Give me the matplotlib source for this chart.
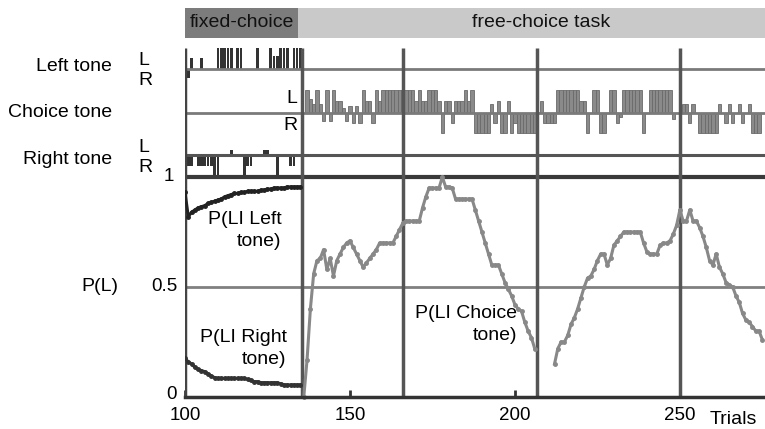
import matplotlib
matplotlib.use('Agg')
import matplotlib.pyplot as plt
from matplotlib.patches import Rectangle
import numpy as np

plt.rcParams['font.family'] = ['Liberation Sans', 'DejaVu Sans']
plt.rcParams['font.size'] = 14

# ---- data ----
fixed_trials = np.arange(100, 136)
p_left_tone = [0.93, 0.82, 0.84, 0.85, 0.86, 0.865, 0.87, 0.88, 0.885, 0.89,
               0.895, 0.90, 0.91, 0.915, 0.92, 0.925, 0.925, 0.93, 0.93, 0.935,
               0.935, 0.935, 0.935, 0.94, 0.94, 0.945, 0.945, 0.95, 0.95, 0.95,
               0.95, 0.955, 0.955, 0.955, 0.955, 0.955]
p_right_tone = [0.175, 0.16, 0.15, 0.135, 0.125, 0.12, 0.115, 0.105, 0.095, 0.088,
                0.085, 0.085, 0.085, 0.085, 0.085, 0.085, 0.085, 0.085, 0.085, 0.08,
                0.075, 0.07, 0.07, 0.065, 0.065, 0.065, 0.065, 0.065, 0.065, 0.06,
                0.055, 0.055, 0.055, 0.055, 0.055, 0.055]

choice_trials_1 = np.arange(136, 207)
p_choice_1 = [0.0, 0.17, 0.40, 0.56, 0.62, 0.63, 0.67, 0.58, 0.63, 0.55,
              0.62, 0.65, 0.68, 0.70, 0.71, 0.68, 0.65, 0.62, 0.59, 0.61,
              0.63, 0.65, 0.67, 0.70, 0.70, 0.70, 0.70, 0.70, 0.73, 0.76,
              0.79, 0.80, 0.80, 0.80, 0.80, 0.80, 0.86, 0.91, 0.95, 0.95,
              0.95, 0.95, 1.00, 0.955, 0.955, 0.95, 0.90, 0.90, 0.90, 0.90,
              0.90, 0.90, 0.85, 0.80, 0.75, 0.70, 0.65, 0.60, 0.60, 0.60,
              0.56, 0.52, 0.49, 0.46, 0.42, 0.40, 0.39, 0.34, 0.30, 0.27, 0.22]
choice_trials_2 = np.arange(212, 276)
p_choice_2 = [0.15, 0.22, 0.25, 0.25, 0.28, 0.33, 0.36, 0.40, 0.45, 0.50,
              0.54, 0.55, 0.58, 0.62, 0.65, 0.65, 0.60, 0.63, 0.69, 0.71,
              0.73, 0.75, 0.75, 0.75, 0.75, 0.75, 0.75, 0.70, 0.66, 0.65,
              0.65, 0.65, 0.69, 0.70, 0.70, 0.71, 0.74, 0.78, 0.85, 0.80,
              0.80, 0.85, 0.80, 0.80, 0.77, 0.73, 0.68, 0.62, 0.60, 0.65,
              0.59, 0.56, 0.52, 0.51, 0.50, 0.46, 0.43, 0.38, 0.35, 0.34,
              0.32, 0.30, 0.30, 0.26]

# raster responses: + = L, - = R (relative bar height)
left_tone_resp = [0, -0.9, 0.5, 0, 0, 0.5, 0, 0, 0, 0,
                  1, 1, 1, 1, 1, 0, 1, 1, 0, 0,
                  0, 0, 1, 0, 0, 0, 1, 0.6, 0.6, 1,
                  1, 1, 0, 1, 1, 1]
right_tone_resp = [0, -0.5, -0.5, 0, -0.5, -0.5, -0.5, -0.5, -0.5, -1,
                   -1, 0, 0, 0, 0.4, 0, 0, 0, -1, -0.5,
                   -0.5, 0, 0, 0, 0.4, 0.4, 0, 0, -1, 0,
                   0, 0, -0.5, -0.5, 0, 0]
free_trials = np.arange(136, 276)
choice_tone_resp = [0, 1, 0.6, 0.4, 1, 0.4, -0.4, 1, -0.4, 1,
                    0.5, 0.5, 0.2, -0.4, 0.3, -0.5, 0.3, -0.5, 1, 0.5,
                    0.5, -0.5, 1, 0.5, 1, 1, 1, 1, 1, 1,
                    1, 1, 1, 1, 0.5, 1, 0.5, 0.5, 1, 1,
                    1, 0.5, -1, 0.5, 0.5, -0.5, 0.5, 0.5, 0.5, 1,
                    0.5, 1, -1, -1, -1, -1, -1, 0.4, -0.5, 0.5,
                    -1, -1, 0.5, -1, -0.5, -1, -1, -1, -1, -1,
                    -1, 0, 0.5, -0.5, -0.5, -0.5, -0.5, 1, 1, 1,
                    1, 1, 1, 1, 0.5, 0.5, -1, 0, 1, 1,
                    -1, -1, 0, 1, 1, -0.5, -0.2, 1, 1, 1,
                    1, 1, 1, -1, 0, 1, 1, 1, 1, 1,
                    1, 1, -0.3, 0, 0, 0.4, 0.4, -0.5, 0.4, 0,
                    -1, -1, -1, -1, -1, -1, 0.4, 0, -0.5, 0.4,
                    -0.5, 0, 0.4, -0.5, 0, 0.4, -1, -1, -1, 0]

block_edges = [135.5, 166, 206.7, 250]
xticks = [100, 150, 200, 250]

# ---- layout ----
XMAX = 275.8
YTOP = 1.768
LEFT_BASE, CHOICE_BASE, RIGHT_BASE = 1.491, 1.291, 1.10
PANEL_TOP = 1.586

fig = plt.figure(figsize=(7.65, 4.29), dpi=100)
ax = fig.add_axes([185 / 765, 32 / 429, 580 / 765, 389 / 429])
ax.set_xlim(100, XMAX)
ax.set_ylim(0, YTOP)
for s in ['top', 'right', 'left']:
    ax.spines[s].set_visible(False)
ax.spines['bottom'].set_linewidth(2.5)
ax.spines['bottom'].set_color('#333333')

# header band
ax.add_patch(Rectangle((100, 1.632), 134.4 - 100, YTOP - 1.632, color='#7c7c7c', lw=0))
ax.add_patch(Rectangle((134.4, 1.632), XMAX - 134.4, YTOP - 1.632, color='#c9c9c9', lw=0))
ax.text(101.3, 1.70, 'fixed-choice', fontsize=14, va='center', ha='left', color='#111111')
ax.text(187.0, 1.70, 'free-choice task', fontsize=14, va='center', ha='left', color='#111111')

# horizontal reference lines
ax.hlines([LEFT_BASE, CHOICE_BASE], 100, XMAX, color='#7a7a7a', lw=2)
ax.hlines(RIGHT_BASE, 100, XMAX, color='#555555', lw=2.2)
ax.hlines(1.0, 100, XMAX, color='#3a3a3a', lw=3)
ax.hlines(0.5, 100, XMAX, color='#808080', lw=2)

# vertical lines
ax.vlines(100, 0, PANEL_TOP, color='#444444', lw=2.5)
ax.vlines(block_edges, 0, PANEL_TOP, color='#555555', lw=2.5)

# rasters
def raster(trials, resp, base, up, down, **kw):
    trials = np.asarray(trials)
    resp = np.asarray(resp, dtype=float)
    m = resp != 0
    h = np.where(resp > 0, resp * up, resp * down)[m]
    ax.bar(trials[m], h, bottom=base, align='center', **kw)

raster(fixed_trials, left_tone_resp, LEFT_BASE, 0.095, 0.045,
       width=0.8, color='#333333', lw=0)
raster(fixed_trials, right_tone_resp, RIGHT_BASE, 0.06, 0.10,
       width=0.8, color='#333333', lw=0)
raster(free_trials, choice_tone_resp, CHOICE_BASE, 0.105, 0.09,
       width=1.0, color='#8a8a8a', edgecolor='#6a6a6a', lw=0.6)

# probability curves
ax.plot(fixed_trials, p_left_tone, color='#222222', lw=2.2, marker='o', ms=2.5)
ax.plot(fixed_trials, p_right_tone, color='#333333', lw=2.2, marker='o', ms=2.5)
ax.plot(choice_trials_1, p_choice_1, color='#888888', lw=2.2, marker='o', ms=2.5, clip_on=False)
ax.plot(choice_trials_2, p_choice_2, color='#888888', lw=2.2, marker='o', ms=2.5)

# curve labels
ax.text(129.3, 0.845, 'P(LI Left\ntone)', ha='right', va='top', linespacing=1.38)
ax.text(130.8, 0.31, 'P(LI Right\ntone)', ha='right', va='top', linespacing=1.38)
ax.text(200.6, 0.42, 'P(LI Choice\ntone)', ha='right', va='top', linespacing=1.38)

# x axis
ax.set_xticks(xticks)
ax.set_xticklabels([str(t) for t in xticks], fontsize=13.5)
ax.tick_params(axis='x', direction='in', length=5, width=2, color='#333333', pad=7)
ax.text(0.986, -0.058, 'Trials', transform=ax.transAxes, ha='right', va='center', fontsize=14)

# y axis labels
ax.set_yticks([])
yt = ax.get_yaxis_transform()
def fx(px):
    return (px - 185) / 580
ax.text(fx(174), 1.0, '1', transform=yt, ha='right', va='center', fontsize=13.5)
ax.text(fx(177), 0.5, '0.5', transform=yt, ha='right', va='center', fontsize=13.5)
ax.text(fx(177), 0.01, '0', transform=yt, ha='right', va='center', fontsize=13.5)
ax.text(fx(118), 0.5, 'P(L)', transform=yt, ha='right', va='center', fontsize=14)

ax.text(fx(112), 1.50, 'Left tone', transform=yt, ha='right', va='center')
ax.text(fx(112), 1.291, 'Choice tone', transform=yt, ha='right', va='center')
ax.text(fx(112), 1.08, 'Right tone', transform=yt, ha='right', va='center')
ax.text(fx(138), 1.53, 'L', transform=yt, ha='left', va='center')
ax.text(fx(138), 1.44, 'R', transform=yt, ha='left', va='center')
ax.text(fx(138), 1.135, 'L', transform=yt, ha='left', va='center')
ax.text(fx(138), 1.045, 'R', transform=yt, ha='left', va='center')
ax.text(134.0, 1.355, 'L', ha='right', va='center')
ax.text(134.0, 1.235, 'R', ha='right', va='center')

fig.savefig('out.png', dpi=100)
